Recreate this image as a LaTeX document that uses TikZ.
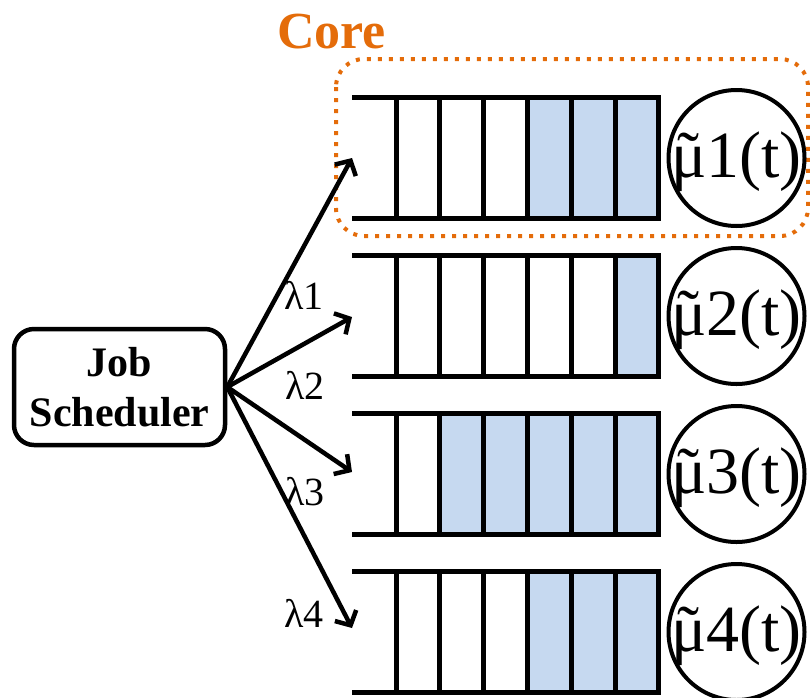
\documentclass[tikz,border=0pt]{standalone}
\usepackage{fontspec}
\setmainfont{Liberation Serif}
\usetikzlibrary{arrows.meta}
\definecolor{coreorange}{RGB}{228,108,10}
\definecolor{jobblue}{RGB}{198,217,240}
\newcommand*{\mutilde}{\accent"02DC μ}
\newcommand*{\QueueRow}[2]{% #1 = top y, #2 = list of busy cells
\foreach \c in {#2} {
\fill [jobblue]
(396+43.8*\c,#1) rectangle (439.8+43.8*\c,#1+121);
}%
\draw [line width=5pt] (352,#1) -- (658.8,#1) -- (658.8,#1+121) -- (352,#1+121);
\foreach \c in {0,...,5} {
\draw [line width=5pt] (396+43.8*\c,#1) -- (396+43.8*\c,#1+121);
}%
}

\begin{document}
\begin{tikzpicture}[x=1pt,y=-1pt,
    arr/.style={line width=4.5pt,-{Straight Barb[length=11pt,width=24pt]}},
    server/.style={circle,draw,line width=4pt,minimum size=133pt,inner sep=0pt,
        font=\fontsize{66}{66}\selectfont,text height=38pt,text depth=0pt},
    lam/.style={font=\fontsize{40}{40}\selectfont,inner sep=0pt,anchor=base}]

            \useasboundingbox (0,0) rectangle (810,697);

            % core frame
            \draw [coreorange, line width=4pt, dash pattern=on 4pt off 7pt, rounded corners=28pt]
                (336,59) rectangle (808,236);
            \node [font=\bfseries\fontsize{52}{52}\selectfont, text=coreorange, inner sep=0pt, anchor=base west]
                (core) at (277,48) {Core};

            \QueueRow{97}{3,4,5}
            \QueueRow{255}{5}
            \QueueRow{413}{1,2,3,4,5}
            \QueueRow{571}{3,4,5}

            \node [server] (mu1) at (736.5,158) {\mutilde1(t)};
            \node [server] (mu2) at (736.5,316) {\mutilde2(t)};
            \node [server] (mu3) at (736.5,474) {\mutilde3(t)};
            \node [server] (mu4) at (736.5,632) {\mutilde4(t)};

            \node [draw, line width=4.5pt, rounded corners=20pt, minimum width=211pt, minimum height=116pt,
                align=center, font=\bfseries\fontsize{42}{50}\selectfont]
                (sched) at (119.5,387) {Job\\Scheduler};

            \coordinate (in1) at (352,158);
            \coordinate (in2) at (352,317);
            \coordinate (in3) at (352,472);
            \coordinate (in4) at (352,628);
            \foreach \i in {1,...,4} {
                \draw [arr] (sched.east) -- (in\i);
            }

            \node [lam] (lam1) at (304,309) {λ1};
            \node [lam] (lam2) at (305,399) {λ2};
            \node [lam] (lam3) at (305,505) {λ3};
            \node [lam] (lam4) at (304,627) {λ4};

        \end{tikzpicture}
\end{document}
